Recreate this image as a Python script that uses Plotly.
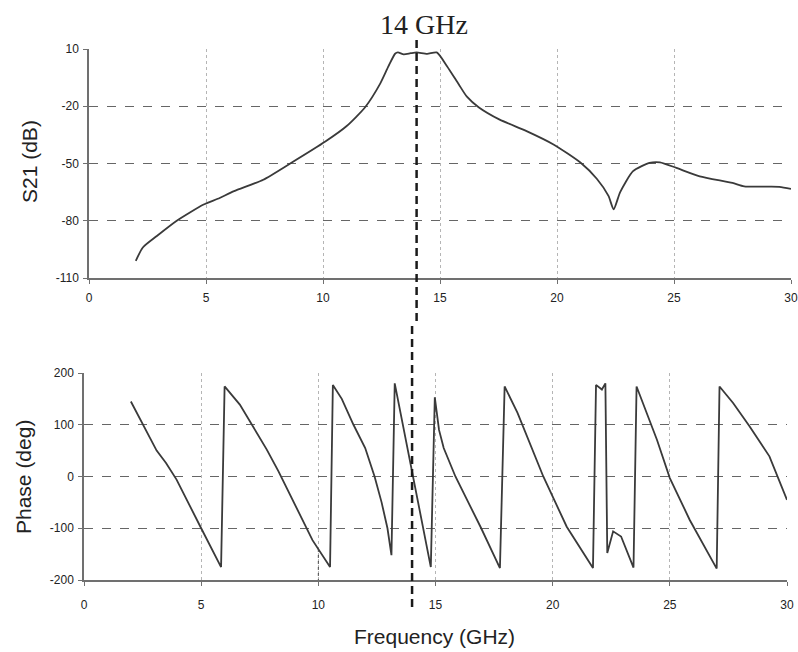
import plotly.graph_objects as go

# ---------------- data ----------------
s21_freq = [2.0, 2.3, 2.9, 3.75, 4.9, 5.5, 6.2, 7.45, 8.6, 10.1, 11.0, 11.8, 12.45, 12.8,
            13.08, 13.2, 13.45, 13.75, 14.0, 14.45, 14.86, 15.3, 15.8, 16.15, 16.65, 17.55,
            18.7, 19.85, 21.0, 21.7, 22.2, 22.42, 22.7, 23.25, 23.95, 24.4, 25.1, 26.1,
            27.5, 28.0, 29.5, 30.0]
s21_db = [-101, -94, -88, -80, -71.5, -68.5, -64.5, -58.5, -50, -38.5, -30.5, -20.5, -8, 1,
          7.5, 8.2, 7.2, 7.8, 8.2, 7.4, 8.2, 1, -8.5, -15, -20.5, -27,
          -33, -40, -49.5, -58, -67, -74, -65, -54, -49.7, -49.4, -52.3, -56.7,
          -60.2, -62, -62.2, -63.3]

phase_freq = [2.0, 2.5, 3.1, 3.5, 3.95, 5.0, 5.85,
              6.0, 6.65, 7.8, 8.3, 9.75, 10.5,
              10.62, 11.0, 11.5, 12.0, 12.4, 12.7, 12.95, 13.12,
              13.26, 14.05, 14.8,
              14.97, 15.15, 15.35, 15.6, 15.85, 16.4, 16.95, 17.75,
              17.95, 18.5, 19.6, 20.6, 21.72,
              21.85, 22.0, 22.1, 22.25, 22.33, 22.58, 22.92, 23.45,
              23.58, 24.45, 25.0, 25.85, 27.0,
              27.12, 27.7, 28.4, 29.25, 30.0]
phase_deg = [145, 103, 50, 26, -6, -100, -175,
             174, 139, 52, 10, -123, -175,
             177, 150, 100, 55, 0, -50, -100, -152,
             180, -3, -175,
             153, 90, 55, 28, 0, -50, -100, -177,
             174, 123, 0, -97, -177,
             177, 172, 168, 180, -148, -106, -116, -176,
             174, 71, -3, -84, -178,
             174, 142, 97, 39, -45]

marker_freq = 14          # dashed marker line
marker_label = "14 GHz"

x_ticks = [0, 5, 10, 15, 20, 25, 30]
s21_ticks = [10, -20, -50, -80, -110]
s21_ticktext = ["10", "-20", "-50", "-80", "-110"]
phase_ticks = [200, 100, 0, -100, -200]
phase_ticktext = ["200", "100", "0", "-100", "-200"]

# ---------------- figure ----------------
W, H = 798, 652
LINE = "#3a3a3a"
AX = "#707070"
FONT = "Liberation Sans, Arial, sans-serif"

fig = go.Figure()
fig.add_trace(go.Scatter(x=s21_freq, y=s21_db, mode="lines", xaxis="x", yaxis="y",
                         line=dict(color=LINE, width=1.8, shape="spline", smoothing=0.6),
                         showlegend=False))
fig.add_trace(go.Scatter(x=phase_freq, y=phase_deg, mode="lines", xaxis="x2", yaxis="y2",
                         line=dict(color=LINE, width=1.8), showlegend=False))

def px(v):  # horizontal pixel -> paper
    return v / W

def py(v):  # vertical pixel (from top) -> paper
    return 1 - v / H

common_x = dict(range=[0, 30], tickvals=x_ticks, showline=True, linecolor=AX, linewidth=1.5,
                ticks="outside", ticklen=4, tickcolor=AX, showgrid=True, gridcolor="#b5b5b5",
                griddash="dot", gridwidth=1, zeroline=False, automargin=False,
                tickfont=dict(family=FONT, size=12, color="#222"))
common_y = dict(showline=True, linecolor=AX, linewidth=1.5, ticks="outside", ticklen=4,
                tickcolor=AX, showgrid=True, gridcolor="#666666", griddash="dash",
                gridwidth=1, zeroline=False, ticklabelstandoff=2, automargin=False,
                tickfont=dict(family=FONT, size=12, color="#222"))

fig.update_layout(
    template="none",
    width=W, height=H, margin=dict(l=0, r=0, t=0, b=0, pad=0),
    paper_bgcolor="white", plot_bgcolor="white",
    xaxis=dict(common_x, domain=[px(89), px(791)], anchor="y", ticklabelstandoff=4),
    yaxis=dict(common_y, domain=[py(278), py(49)], anchor="x", range=[-110, 10],
               tickvals=s21_ticks, ticktext=s21_ticktext),
    xaxis2=dict(common_x, domain=[px(84), px(787)], anchor="y2", ticklabelstandoff=9),
    yaxis2=dict(common_y, domain=[py(580), py(373)], anchor="x2", range=[-200, 200],
                tickvals=phase_ticks, ticktext=phase_ticktext),
)

# dashed marker line at 14 GHz across both panels
fig.add_shape(type="line", xref="x", yref="paper", x0=marker_freq, x1=marker_freq,
              y0=py(40), y1=py(326), line=dict(color="#1a1a1a", width=2.5, dash="8px,5px"))
fig.add_shape(type="line", xref="x2", yref="paper", x0=marker_freq, x1=marker_freq,
              y0=py(326), y1=py(612), line=dict(color="#1a1a1a", width=2.5, dash="8px,5px"))
# small dotted line at 10 GHz in phase panel
fig.add_shape(type="line", xref="x2", yref="y2", x0=10, x1=10, y0=-140, y1=-200,
              line=dict(color="#444", width=1, dash="dot"))

fig.add_annotation(text=marker_label, xref="x", yref="paper", x=marker_freq, y=py(24),
                   xshift=7, showarrow=False, xanchor="center", yanchor="middle",
                   font=dict(family="Liberation Serif, Times New Roman, serif", size=28, color="#222"))
fig.add_annotation(text="S21 (dB)", xref="paper", yref="paper", x=px(29), y=py(162),
                   textangle=-90, showarrow=False, xanchor="center", yanchor="middle",
                   font=dict(family=FONT, size=21, color="#222"))
fig.add_annotation(text="Phase (deg)", xref="paper", yref="paper", x=px(23), y=py(477),
                   textangle=-90, showarrow=False, xanchor="center", yanchor="middle",
                   font=dict(family=FONT, size=21, color="#222"))
fig.add_annotation(text="Frequency (GHz)", xref="paper", yref="paper", x=px(434), y=py(636),
                   showarrow=False, xanchor="center", yanchor="middle",
                   font=dict(family=FONT, size=21, color="#222"))

fig.write_html("out.html")
